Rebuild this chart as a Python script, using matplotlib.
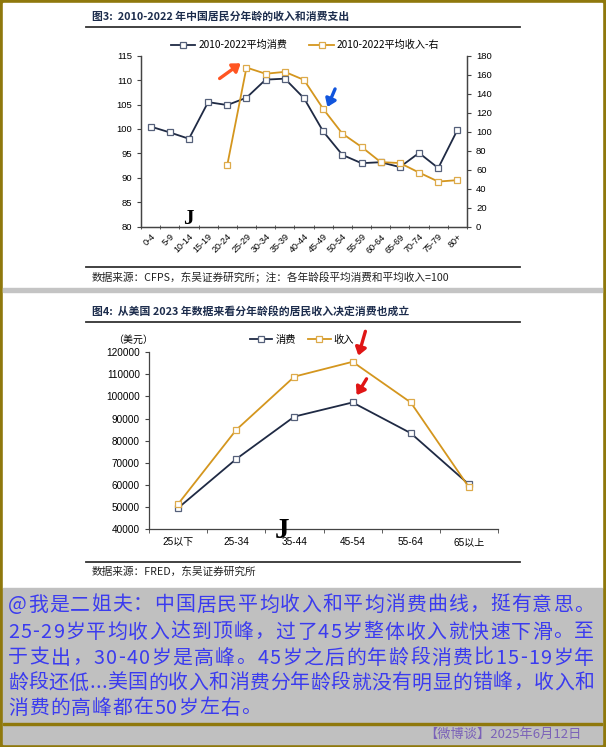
import matplotlib
matplotlib.use("Agg")
import matplotlib.pyplot as plt
from matplotlib.patches import Rectangle
from matplotlib.lines import Line2D

plt.rcParams['font.family'] = ['Liberation Sans', 'Noto Sans CJK SC', 'DejaVu Sans']

W, H = 606, 747

# ---- data: chart 1 (China, CFPS) ----
ages_cn = ["0-4", "5-9", "10-14", "15-19", "20-24", "25-29", "30-34", "35-39",
           "40-44", "45-49", "50-54", "55-59", "60-64", "65-69", "70-74", "75-79", "80+"]
consume_cn = [100.5, 99.3, 98.0, 105.5, 104.9, 106.4, 110.1, 110.3, 106.3,
              99.5, 94.7, 93.0, 93.2, 92.2, 95.1, 92.0, 99.8]
income_cn = [None, None, None, None, 65, 167.5, 161, 163, 154.5,
             124, 98, 84, 68, 67, 57, 47.5, 49]

# ---- data: chart 2 (US, FRED 2023) ----
ages_us = ["25以下", "25-34", "35-44", "45-54", "55-64", "65以上"]
consume_us = [49500, 71700, 90900, 97300, 83400, 60200]
income_us = [51300, 84900, 109000, 115700, 97300, 58900]

title1 = "图3:  2010-2022 年中国居民分年龄的收入和消费支出"
title2 = "图4:  从美国 2023 年数据来看分年龄段的居民收入决定消费也成立"
source1 = "数据来源：CFPS，东吴证券研究所；注：各年龄段平均消费和平均收入=100"
source2 = "数据来源：FRED，东吴证券研究所"
comment_lines = [
    "@我是二姐夫：中国居民平均收入和平均消费曲线，挺有意思。",
    "25-29岁平均收入达到顶峰，过了45岁整体收入就快速下滑。至",
    "于支出，30-40岁是高峰。45岁之后的年龄段消费比15-19岁年",
    "龄段还低...美国的收入和消费分年龄段就没有明显的错峰，收入和",
    "消费的高峰都在50岁左右。",
]
footer = "【微博谈】2025年6月12日"

NAVY = "#1f2a44"
NAVY_EDGE = "#55607a"
GOLD = "#d4961e"
GOLD_EDGE = "#ddaa4a"
OLIVE = "#8f780c"
CJK = ['Noto Sans CJK SC', 'DejaVu Sans']


def fx(x):
    return x / W


def fy(y):
    return 1 - y / H


def rect(x0, y0, x1, y1, color):
    fig.patches.append(Rectangle((fx(x0), fy(y1)), (x1 - x0) / W, (y1 - y0) / H,
                                 transform=fig.transFigure, color=color, zorder=-10))


def hand_arrow(ax, tip, tail, color):
    ax.annotate("", xy=tip, xytext=tail, annotation_clip=False,
                arrowprops=dict(arrowstyle="-|>,head_width=0.32,head_length=0.45",
                                color=color, lw=2.4, shrinkA=0, shrinkB=0))


fig = plt.figure(figsize=(W / 100, H / 100), dpi=100, facecolor=OLIVE)

# panels
rect(3, 3, 602, 588, "white")
rect(3, 288, 602, 292, "#c4c4c4")
rect(3, 588, 602, 744, "#c0c0c0")
rect(3, 723, 602, 725, OLIVE)

# title rules
for yy in (27, 267, 322, 562):
    fig.add_artist(Line2D([fx(86), fx(520)], [fy(yy), fy(yy)], color="#333333",
                          lw=1.3, transform=fig.transFigure))

fig.text(fx(92), fy(16), title1, family=CJK, fontsize=7.8, fontweight="bold",
         color="#1c2c4c", va="center")
fig.text(fx(92), fy(311), title2, family=CJK, fontsize=7.8, fontweight="bold",
         color="#1c2c4c", va="center")
fig.text(fx(92), fy(277), source1, family=CJK, fontsize=7.7, color="#222222", va="center")
fig.text(fx(92), fy(572), source2, family=CJK, fontsize=7.7, color="#222222", va="center")

# ---------- chart 1 ----------
ax1 = fig.add_axes([fx(141), fy(226.7), (467 - 141) / W, (226.7 - 55.7) / H])
ax1b = ax1.twinx()
x1 = list(range(len(ages_cn)))
l1, = ax1.plot(x1, consume_cn, color=NAVY, lw=1.3, marker="s", ms=5,
               mfc="white", mec=NAVY_EDGE, mew=0.9, label="2010-2022平均消费")
inc_x = [i for i, v in zip(x1, income_cn) if v is not None]
inc_y = [v for v in income_cn if v is not None]
l2, = ax1b.plot(inc_x, inc_y, color=GOLD, lw=1.3, marker="s", ms=5,
                mfc="white", mec=GOLD_EDGE, mew=0.9, label="2010-2022平均收入-右")
ax1.set_xlim(-0.5, len(ages_cn) - 0.5)
ax1.set_ylim(80, 115)
ax1b.set_ylim(0, 180)
ax1.set_yticks(range(80, 116, 5))
ax1b.set_yticks(range(0, 181, 20))
ax1.set_xticks(x1)
ax1.set_xticklabels(ages_cn, rotation=45, ha="right", rotation_mode="anchor")
ax1.set_xticks([i - 0.5 for i in range(len(ages_cn) + 1)], minor=True)
ax1.tick_params(axis="x", which="major", length=0, labelsize=6.5, pad=4)
ax1.tick_params(axis="x", which="minor", length=3, direction="inout", color="#444444")
ax1.tick_params(axis="y", length=3, labelsize=6.8, color="#444444")
ax1b.tick_params(axis="y", length=3, labelsize=6.8, color="#444444")
for a in (ax1, ax1b):
    a.spines["top"].set_visible(False)
    for s in ("left", "right", "bottom"):
        a.spines[s].set_color("#444444")
        a.spines[s].set_linewidth(0.9)
    a.set_facecolor("none")
fig.legend(handles=[l1, l2], loc="center", bbox_to_anchor=(fx(305), fy(45)), ncol=2,
           frameon=False, prop={"family": CJK, "size": 7.3}, handlelength=2.4,
           columnspacing=2.2, handletextpad=0.3)

# hand-drawn marks on chart 1
hand_arrow(ax1b, (4.7, 172), (3.6, 156), "#ff5522")
hand_arrow(ax1b, (9.22, 126), (9.62, 145), "#1155dd")
fig.text(fx(188), fy(219), "J", family=["Liberation Serif"], fontsize=15,
         fontweight="bold", ha="center", va="center", color="black")

# ---------- chart 2 ----------
ax2 = fig.add_axes([fx(149), fy(529), (498 - 149) / W, (529 - 352.3) / H])
x2 = list(range(len(ages_us)))
m1, = ax2.plot(x2, consume_us, color=NAVY, lw=1.3, marker="s", ms=5,
               mfc="white", mec=NAVY_EDGE, mew=0.9, label="消费")
m2, = ax2.plot(x2, income_us, color=GOLD, lw=1.3, marker="s", ms=5,
               mfc="white", mec=GOLD_EDGE, mew=0.9, label="收入")
ax2.set_xlim(-0.5, len(ages_us) - 0.5)
ax2.set_ylim(40000, 120000)
ax2.set_yticks(range(40000, 120001, 10000))
ax2.set_xticks(x2)
ax2.set_xticklabels(ages_us)
ax2.set_xticks([i - 0.5 for i in range(len(ages_us) + 1)], minor=True)
ax2.tick_params(axis="x", which="major", length=0, labelsize=7.2, pad=6)
ax2.tick_params(axis="x", which="minor", length=3, color="#444444")
ax2.tick_params(axis="y", length=3, labelsize=7.2, color="#444444")
for s in ("top", "right"):
    ax2.spines[s].set_visible(False)
for s in ("left", "bottom"):
    ax2.spines[s].set_color("#444444")
    ax2.spines[s].set_linewidth(0.9)
ax2.set_facecolor("none")
fig.text(fx(133), fy(340), "（美元）", family=CJK, fontsize=7.2, ha="center", va="center")
fig.legend(handles=[m1, m2], loc="center", bbox_to_anchor=(fx(302), fy(340)), ncol=2,
           frameon=False, prop={"family": CJK, "size": 7.4}, handlelength=2.2,
           columnspacing=1.2, handletextpad=0.3)

hand_arrow(ax2, (3.1, 118500), (3.22, 129500), "#e01515")
hand_arrow(ax2, (3.07, 100600), (3.24, 108000), "#e01515")
fig.text(fx(282), fy(531), "J", family=["Liberation Serif"], fontsize=21,
         fontweight="bold", ha="center", va="center", color="black")

# ---------- comment box (justified, one text per character) ----------
line_y = [605, 632, 658, 683, 708]
box_left, box_right = 8, 594
renderer = fig.canvas.get_renderer()
gaps = []
for k, (txt, yy) in enumerate(zip(comment_lines, line_y)):
    chars = [fig.text(0, fy(yy), ch, family=CJK, fontsize=14.3, color="#3b3bef",
                      va="center") for ch in txt]
    widths = [t.get_window_extent(renderer).width for t in chars]
    if k < len(comment_lines) - 1:
        gap = (box_right - box_left - sum(widths)) / (len(chars) - 1)
        gaps.append(gap)
    else:
        gap = sum(gaps) / len(gaps)
    xpos = box_left
    for t, w in zip(chars, widths):
        t.set_x(fx(xpos))
        xpos += w + gap

fig.text(fx(582), fy(734), footer, family=CJK, fontsize=9.5, color="#7b62b8",
         ha="right", va="center")

fig.savefig("out.png", dpi=100, facecolor=fig.get_facecolor())
